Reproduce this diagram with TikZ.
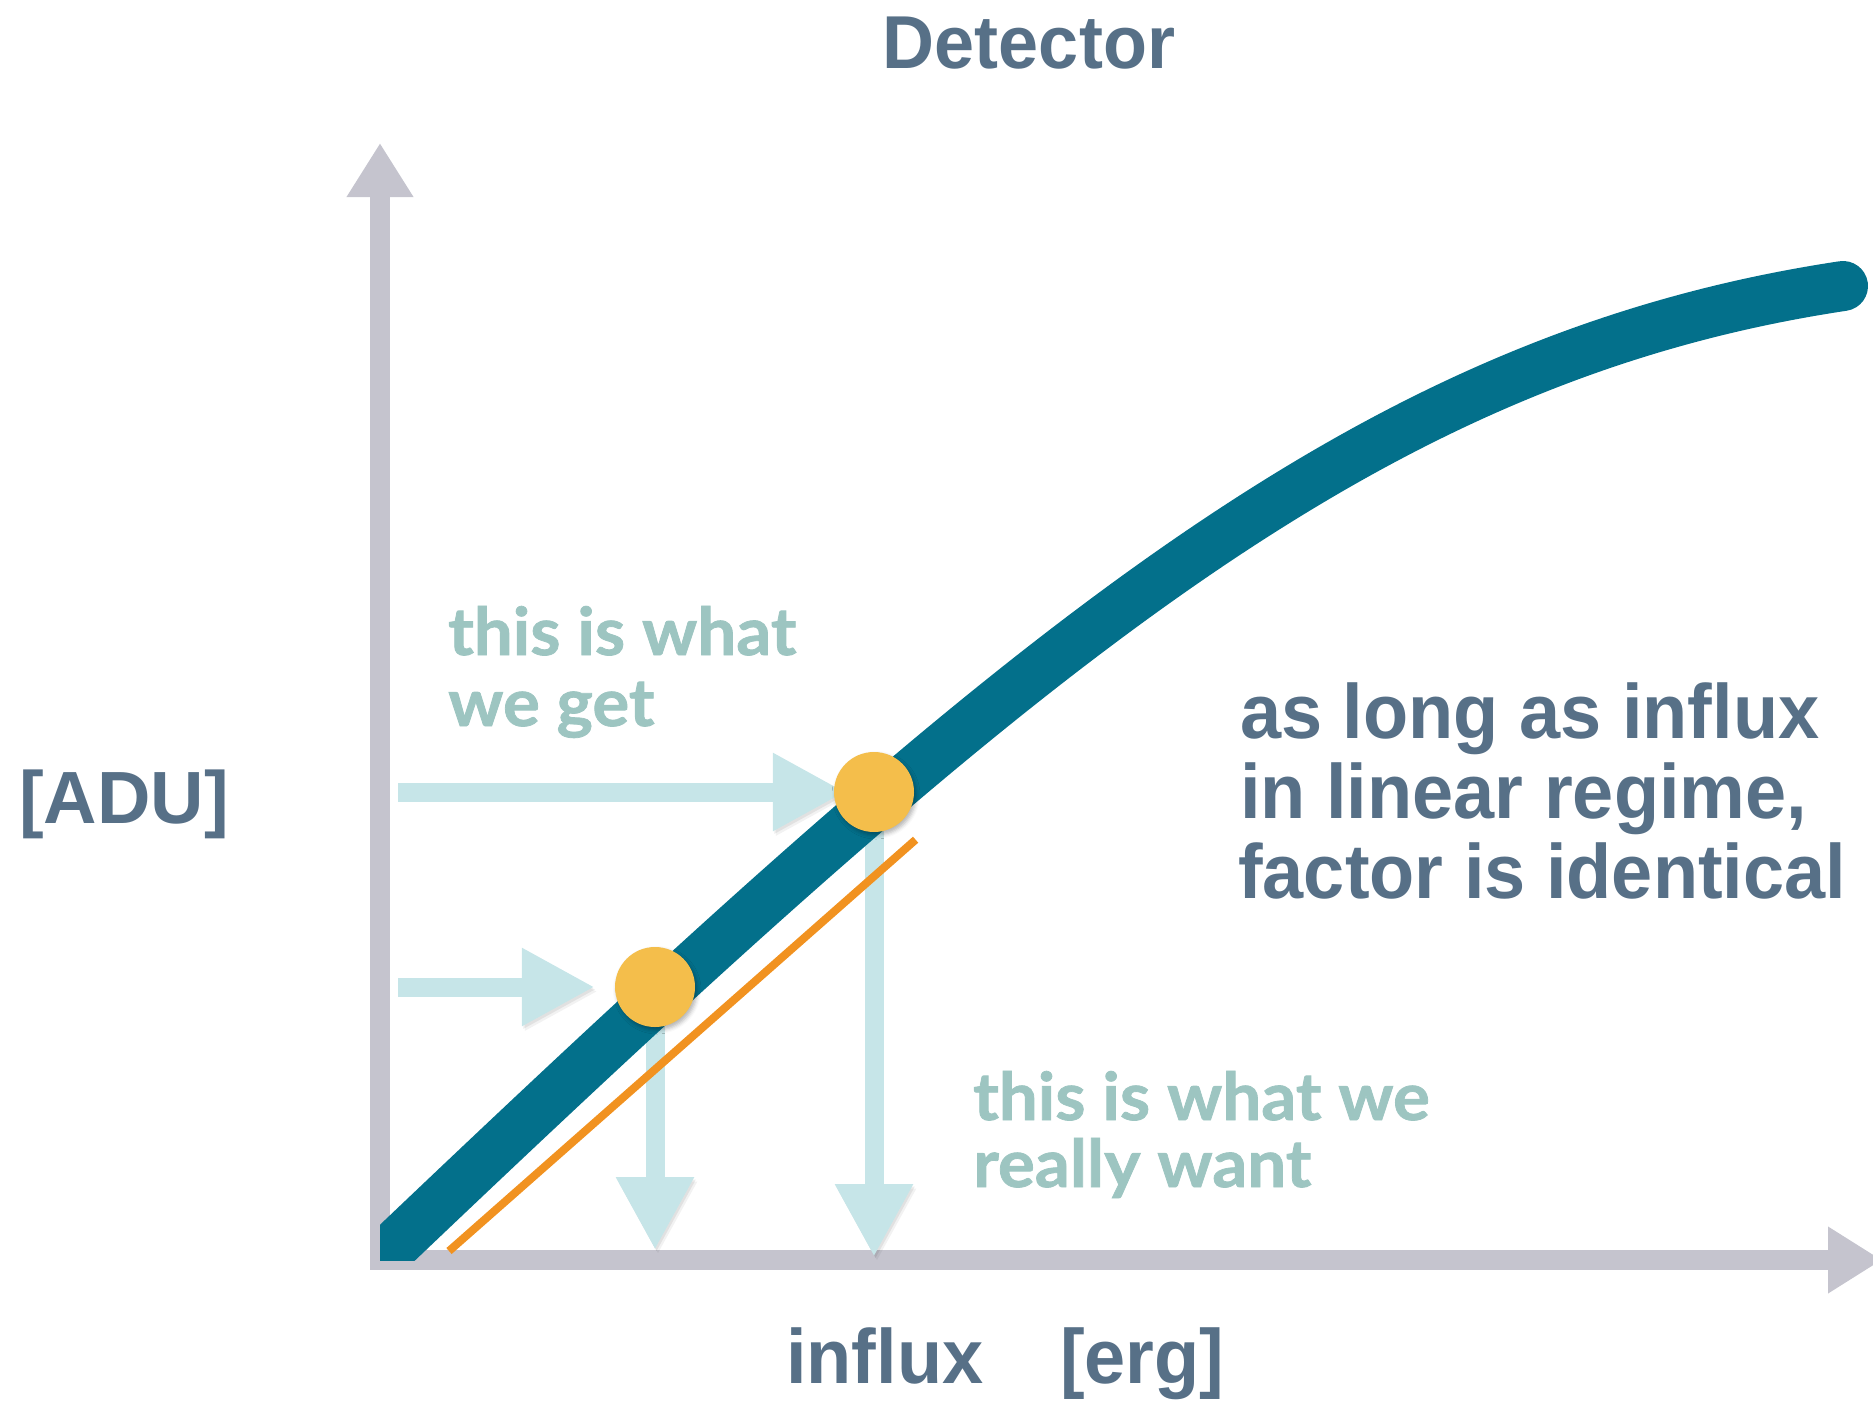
\documentclass[tikz,border=0pt]{standalone}
\usepackage{fontspec}
\setmainfont{Liberation Sans}
\newfontfamily\darkfont{Liberation Sans}[FakeStretch=0.96]
\newfontfamily\softfont{Lato}[FakeStretch=1.045, FakeBold=1.2]
\usetikzlibrary{arrows.meta,shadows.blur}

\definecolor{axisgray}{HTML}{C5C4CE}
\definecolor{curveteal}{HTML}{03708B}
\definecolor{dotyellow}{HTML}{F4BE4B}
\definecolor{linorange}{HTML}{F19220}
\definecolor{flowblue}{HTML}{C6E5E8}
\definecolor{darktext}{HTML}{577087}
\definecolor{softtext}{HTML}{9DC5C1}

\tikzset{
  axisline/.style={draw=axisgray, line width=20pt, line cap=rect,
    -{Triangle[length=54pt,width=63pt]}},
  flow/.style={draw=flowblue, line width=19pt,
    -{Triangle[length=73pt,width=73pt]},
    preaction={draw=black, opacity=0.07,
      transform canvas={xshift=1.5pt,yshift=-2.5pt}},
    preaction={draw=black, opacity=0.05,
      transform canvas={xshift=3pt,yshift=-4.5pt}}},
  dotspot/.style={circle, minimum size=80pt, inner sep=0pt},
  dot/.style={dotspot, fill=dotyellow,
    blur shadow={shadow xshift=2pt, shadow yshift=-3pt,
      shadow blur radius=4pt, shadow opacity=30}},
  darklabel/.style={inner sep=0pt, text=darktext, anchor=base west,
    font=\darkfont\bfseries\fontsize{77pt}{80pt}\selectfont},
  softlabel/.style={inner sep=0pt, text=softtext, anchor=base west,
    font=\softfont\bfseries\fontsize{66pt}{70pt}\selectfont},
}

\begin{document}
\begin{tikzpicture}[x=1pt,y=-1pt]
\useasboundingbox (0,0) rectangle (1873,1400);

% axes
\coordinate (O) at (380,1260);
\coordinate (ytip) at (380,143);
\coordinate (xtip) at (1882,1260);
\draw[axisline] (O) -- (ytip);
\draw[axisline] (O) -- (xtip);

% measured points on the response curve
\node[dotspot] (p1) at (655,987) {};
\node[dotspot] (p2) at (874,792) {};

% read-off arrows down to the influx axis
\draw[flow, shorten >=10pt] (p1.center) -- (p1 |- O);
\draw[flow, shorten >=3pt] (p2.center) -- (p2 |- O);

% detector response
\begin{scope}
  \clip (380,0) rectangle (1873,1260);
  \draw[curveteal, line width=50pt, line cap=round]
    (374,1265) .. controls (1022,647) and (1365,358) .. (1843,286);
\end{scope}

% linear approximation
\coordinate (o1) at (449,1251);
\coordinate (o2) at (915.6,839.7);
\draw[linorange, line width=8pt] (o1) -- (o2);

% signal arrows from the ADU axis
\coordinate (s1) at (398,987);
\coordinate (s2) at (398,792);
\draw[flow, shorten >=20pt] (s1) -- (p1.west);
\draw[flow, shorten >=-12pt] (s2) -- (p2.west);

% dots on top
\node[dot] (d1) at (p1) {};
\node[dot] (d2) at (p2) {};

% labels
\node[darklabel, anchor=base, font=\darkfont\bfseries\fontsize{75pt}{80pt}\selectfont]
  (title) at (1029,68) {Detector};
\node[darklabel, anchor=base, font=\bfseries\fontsize{74pt}{80pt}\selectfont]
  (ylab) at (124,823) {[ADU]};
\node[darklabel] (xlab) at (786,1383) {influx};
\node[darklabel] (xunit) at (1060,1383) {[erg]};

\node[darklabel] (n1) at (1240,738) {as long as influx};
\node[darklabel] (n2) at (1240,818) {in linear regime,};
\node[darklabel] (n3) at (1238,898) {factor is identical};

\node[softlabel] (g1) at (448,655) {this is what};
\node[softlabel] (g2) at (448,726) {we get};
\node[softlabel] (w1) at (973,1120) {this is what we};
\node[softlabel] (w2) at (973,1187) {really want};
\end{tikzpicture}
\end{document}
